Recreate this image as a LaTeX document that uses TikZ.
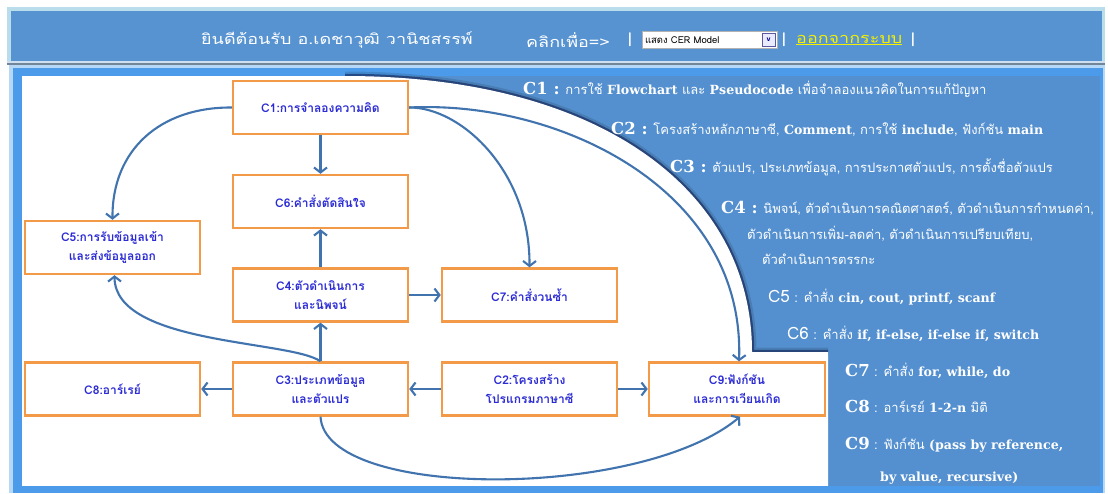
\documentclass[tikz,border=0pt]{standalone}
\usepackage{fontspec}
\usetikzlibrary{arrows.meta}
\newfontfamily\thaifont[Script=Thai]{Loma}
\newfontfamily\thaiwide[Script=Thai,FakeStretch=1.24]{Loma}
\newfontfamily\latserif{DejaVu Serif}
\definecolor{headblue}{HTML}{5793D1}
\definecolor{frameblue}{HTML}{4C9BEA}
\definecolor{panelblue}{HTML}{5490CF}
\definecolor{boxorange}{HTML}{F29A48}
\definecolor{boxtext}{HTML}{2B2BD6}
\definecolor{linkblue}{HTML}{4174AE}
\definecolor{exityellow}{HTML}{F4F000}
% Latin words and topic labels in the description panel
\newcommand\lw[1]{{\latserif\bfseries\fontsize{12.6}{14}\selectfont #1}}
\newcommand\cl[1]{{\latserif\bfseries\fontsize{16.5}{18}\selectfont #1}}
\newcommand\cs[1]{{\fontsize{17}{18}\selectfont #1}}
% edge of the white drawing area
\newcommand\areaedge{(345,76) .. controls (600,76) and (752,190) .. (752,352)}
\tikzset{
  topic/.style={draw=boxorange, line width=2.4pt, fill=white,
    minimum width=175pt, minimum height=53pt, inner sep=2pt,
    align=center, text=boxtext,
    font=\thaifont\bfseries\fontsize{12}{19}\selectfont},
  link/.style={draw=linkblue, line width=2.1pt,
    -{Straight Barb[length=5pt,width=13pt,line width=2.1pt]}},
  desc/.style={anchor=base west, text=white, inner sep=0pt,
    font=\thaifont\fontsize{13}{15}\selectfont},
  headtext/.style={text=white, inner sep=0pt,
    font=\thaiwide\fontsize{14.5}{16}\selectfont},
}
\begin{document}
\begin{tikzpicture}[x=1pt, y=-1pt]
\useasboundingbox (0,0) rectangle (1108,493);
\fill[white] (0,0) rectangle (1108,493);

% header bar
\fill[black!25!cyan!30!white] (7,7) rectangle (1105,65);
\fill[headblue] (11,11) rectangle (1102,61);
\fill[white!70!headblue] (7,61) rectangle (1105,63);
\fill[gray!70!headblue] (7,63) rectangle (1105,65);

% main frame and description panel
\fill[white!60!frameblue] (9,65) rectangle (1105,493);
\fill[frameblue] (13,68) rectangle (1103,493);
\fill[panelblue] (22,76) rectangle (1100,486);

% white drawing area with its shaded rim
\path[draw=black, opacity=0.12, line width=9pt] \areaedge -- (828,352);
\path[draw=black!80!blue, opacity=0.45, line width=4.5pt] \areaedge -- (828,352);
\fill[white] (22,76) -- \areaedge -- (828,352) -- (828,486) -- (22,486) -- cycle;
\fill[frameblue] (13,486) rectangle (1103,493);

% header texts
\node[headtext, anchor=west] (welcome) at (201,40) {ยินดีต้อนรับ อ.เดชาวุฒิ วานิชสรรพ์};
\node[headtext, anchor=west] (click) at (526,40) {คลิกเพื่อ=>};
\node[headtext] (bar1) at (630,40) {|};
\node[draw=gray!60, fill=white, minimum width=135pt, minimum height=17pt,
  inner sep=0pt] (select) at (709.5,40) {};
\node[anchor=west, inner sep=0pt, font=\thaifont\fontsize{9.5}{10}\selectfont]
  (selecttext) at ([xshift=3pt]select.west) {แสดง CER Model};
\node[draw=gray!70!blue, fill=blue!8, minimum width=13pt, minimum height=13pt,
  inner sep=0pt, anchor=east, font=\sffamily\bfseries\fontsize{8}{9}\selectfont,
  text=blue!60!black] (selectbtn) at ([xshift=-2pt]select.east) {v};
\node[headtext] (bar2) at (784,40) {|};
\node[headtext, anchor=west, text=exityellow] (logout) at (796,40)
  {\underline{ออกจากระบบ}};
\node[headtext] (bar3) at (913,40) {|};

% topic boxes
\node[topic] (c1) at (320.5,107.5) {C1:การจำลองความคิด};
\node[topic] (c6) at (320.5,201.5) {C6:คำสั่งตัดสินใจ};
\node[topic] (c5) at (112.5,247.5) {C5:การรับข้อมูลเข้า\\และส่งข้อมูลออก};
\node[topic] (c4) at (320.5,295) {C4:ตัวดำเนินการ\\และนิพจน์};
\node[topic] (c7) at (529.5,295) {C7:คำสั่งวนซ้ำ};
\node[topic] (c3) at (320.5,389) {C3:ประเภทข้อมูล\\และตัวแปร};
\node[topic] (c8) at (112.5,389) {C8:อาร์เรย์};
\node[topic] (c2) at (529.5,389) {C2:โครงสร้าง\\โปรแกรมภาษาซี};
\node[topic, minimum width=176pt] (c9) at (737,389) {C9:ฟังก์ชัน\\และการเวียนเกิด};

% connectors
\draw[link] (c1) -- (c6);
\draw[link] (c1.west) .. controls (160,107) and (112,150) .. (c5.north);
\draw[link] (c1.east) .. controls (460,107) and (530,170) .. (c7.north);
\draw[link] (c1.east) .. controls (560,100) and (745,190) .. ([xshift=2pt]c9.north);
\draw[link] (c4) -- (c6);
\draw[link] (c4) -- (c7);
\draw[link] (c3) -- (c4);
\draw[link] (c3.north) .. controls (290,340) and (115,345) .. ([xshift=2pt]c5.south);
\draw[link] (c3) -- (c8);
\draw[link] (c2) -- (c3);
\draw[link] (c2) -- (c9);
\draw[link] (c3.south) .. controls (325,500) and (640,500) .. ([xshift=3pt]c9.south);

% topic descriptions
\node[desc] (d1) at (523,94) {\cl{C1 :} การใช้ \lw{Flowchart} และ \lw{Pseudocode} เพื่อจำลองแนวคิดในการแก้ปัญหา};
\node[desc] (d2) at (611,134) {\cl{C2 :} โครงสร้างหลักภาษาซี, \lw{Comment}, การใช้ \lw{include}, ฟังก์ชัน \lw{main}};
\node[desc] (d3) at (670,172) {\cl{C3 :} ตัวแปร, ประเภทข้อมูล, การประกาศตัวแปร, การตั้งชื่อตัวแปร};
\node[desc] (d4) at (721,213) {\cl{C4 :} นิพจน์, ตัวดำเนินการคณิตศาสตร์, ตัวดำเนินการกำหนดค่า,};
\node[desc] (d4b) at (747,239) {ตัวดำเนินการเพิ่ม-ลดค่า, ตัวดำเนินการเปรียบเทียบ,};
\node[desc] (d4c) at (762,264) {ตัวดำเนินการตรรกะ};
\node[desc] (d5) at (768,302) {\cs{C5} : คำสั่ง \lw{cin, cout, printf, scanf}};
\node[desc] (d6) at (787,339) {\cs{C6} : คำสั่ง \lw{if, if-else, if-else if, switch}};
\node[desc] (d7) at (845,376) {\cl{C7} : คำสั่ง \lw{for, while, do}};
\node[desc] (d8) at (845,412) {\cl{C8} : อาร์เรย์ \lw{1-2-n} มิติ};
\node[desc] (d9) at (845,449) {\cl{C9} : ฟังก์ชัน \lw{(pass by reference,}};
\node[desc] (d9b) at (880,481) {\lw{by value, recursive)}};
\end{tikzpicture}
\end{document}
